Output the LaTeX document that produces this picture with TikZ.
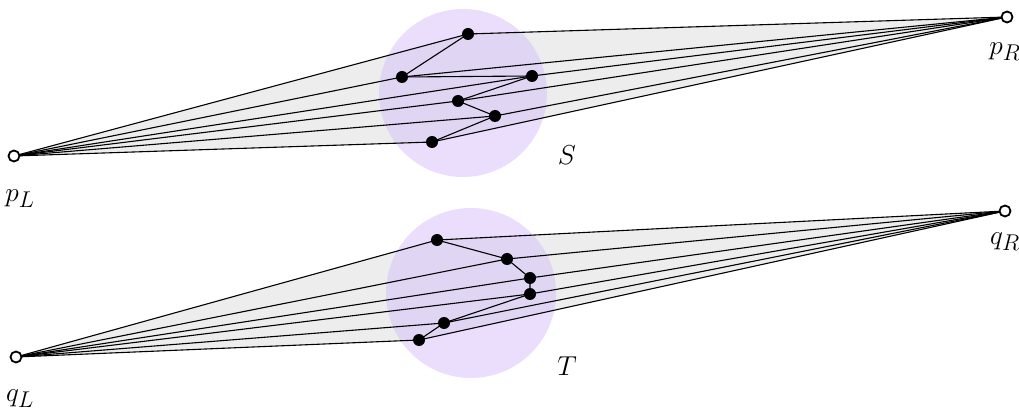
\documentclass[tikz,border=0pt]{standalone}
\usepackage{amsmath}
\usepackage{xcolor}
\usetikzlibrary{calc}
\definecolor{blob}{RGB}{213,190,250}
\tikzset{
  pt/.style={circle,fill=black,inner sep=0pt,minimum size=12pt},
  endpt/.style={circle,draw=black,fill=white,line width=1.8pt,inner sep=0pt,minimum size=11pt},
  lbl/.style={font=\Huge,scale=1.1}
}
\begin{document}
\begin{tikzpicture}[x=1pt,y=-1pt,line width=1.1pt]
\useasboundingbox (0,0) rectangle (1019,411);
% upper set S
\coordinate (pL) at (14,156);
\coordinate (pR) at (1007,17);
\coordinate (s1) at (468,34);
\coordinate (s2) at (402,77);
\coordinate (s3) at (532,76);
\coordinate (s4) at (458,101);
\coordinate (s5) at (495,116);
\coordinate (s6) at (432,142);
\fill[black!7] (pL) -- (s1) -- (pR) -- (s6) -- cycle;
\fill[blob, fill opacity=0.5] (463,93) circle (84pt);
\foreach \i in {1,...,6} \draw (pL) -- (s\i) -- (pR);
\draw (s1) -- (s2) -- (s3) -- (s4) -- (s5) -- (s6);
\foreach \i in {1,...,6} \node[pt] (ns\i) at (s\i) {};
\node[endpt] (npL) at (pL) {};
\node[endpt] (npR) at (pR) {};
\node[lbl] (lpL) at (20,199) {$p_L$};
\node[lbl] (lpR) at (1005,52) {$p_R$};
\node[lbl] (lS) at (567,155) {$S$};
% lower set T
\coordinate (qL) at (16,357);
\coordinate (qR) at (1005,211);
\coordinate (t1) at (437,240);
\coordinate (t2) at (507,259);
\coordinate (t3) at (530,278);
\coordinate (t4) at (530,294);
\coordinate (t5) at (444,323);
\coordinate (t6) at (419,340);
\fill[black!7] (qL) -- (t1) -- (qR) -- (t6) -- cycle;
\fill[blob, fill opacity=0.5] (471,293) circle (85pt);
\foreach \i in {1,...,6} \draw (qL) -- (t\i) -- (qR);
\draw (t1) -- (t2) -- (t3) -- (t4) -- (t5) -- (t6);
\foreach \i in {1,...,6} \node[pt] (nt\i) at (t\i) {};
\node[endpt] (nqL) at (qL) {};
\node[endpt] (nqR) at (qR) {};
\node[lbl] (lqL) at (20,399) {$q_L$};
\node[lbl] (lqR) at (1005,242) {$q_R$};
\node[lbl] (lT) at (567,366) {$T$};
\end{tikzpicture}
\end{document}
